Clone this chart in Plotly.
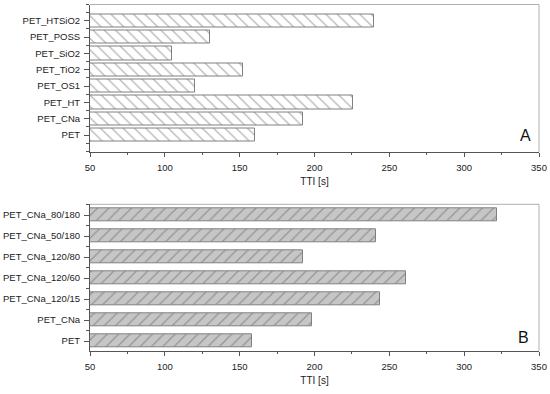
import plotly.graph_objects as go

# Panel A data
cats_a = ["PET", "PET_CNa", "PET_HT", "PET_OS1", "PET_TiO2", "PET_SiO2", "PET_POSS", "PET_HTSiO2"]
tti_a = [160, 192, 226, 120, 152, 105, 130, 240]

# Panel B data
cats_b = ["PET", "PET_CNa", "PET_CNa_120/15", "PET_CNa_120/60", "PET_CNa_120/80",
          "PET_CNa_50/180", "PET_CNa_80/180"]
tti_b = [158, 198, 244, 261, 192, 241, 322]

x_ticks = [50, 100, 150, 200, 250, 300, 350]

FONT = "Liberation Sans, Arial, sans-serif"
AX = "#555555"
TXT = "#222222"

pos_a = list(range(len(cats_a)))
pos_b = list(range(len(cats_b)))

fig = go.Figure()
fig.add_trace(go.Bar(
    x=tti_a, y=pos_a, orientation="h", base=0, width=0.82,
    marker=dict(color="white", line=dict(color="#808080", width=1),
                pattern=dict(shape="\\", fgcolor="#666666", bgcolor="white", size=8, solidity=0.15)),
    xaxis="x", yaxis="y", showlegend=False, hoverinfo="skip"))
fig.add_trace(go.Bar(
    x=tti_b, y=pos_b, orientation="h", base=0, width=0.63,
    marker=dict(color="#c6c6c6", line=dict(color="#808080", width=1),
                pattern=dict(shape="/", fgcolor="#606060", bgcolor="#c6c6c6", size=8, solidity=0.15)),
    xaxis="x2", yaxis="y2", showlegend=False, hoverinfo="skip"))

W, H = 550, 394
xdom = [90 / W, 539 / W]
ydom_a = [1 - 152 / H, 1 - 4.5 / H]
ydom_b = [1 - 350.7 / H, 1 - 204.3 / H]

def xax(anchor):
    return dict(domain=xdom, range=[50, 350], anchor=anchor, tickvals=x_ticks, automargin=False,
                ticks="outside", ticklen=4, tickcolor=AX, linecolor=AX, linewidth=1,
                showline=True, showgrid=False, zeroline=False, ticklabeloverflow="allow",
                minor=dict(ticks="outside", ticklen=2, tickcolor=AX, dtick=25, tick0=50),
                tickfont=dict(family=FONT, size=9.5, color=TXT), ticklabelstandoff=3,
                title=dict(text="TTI [s]", font=dict(family=FONT, size=10, color=TXT), standoff=5))

def yax(dom, anchor, cats, rng):
    return dict(domain=dom, range=rng, anchor=anchor, tickvals=list(range(len(cats))), automargin=False,
                ticktext=cats, ticks="outside", ticklen=5, tickcolor=AX, linecolor=AX,
                linewidth=1, showline=True, showgrid=False, zeroline=False,
                minor=dict(ticks="outside", ticklen=3, tickcolor=AX, dtick=0.5, tick0=0),
                tickfont=dict(family=FONT, size=9.5, color=TXT), ticklabelstandoff=2)

fig.update_layout(
    width=W, height=H, margin=dict(l=0, r=0, t=0, b=0),
    plot_bgcolor="white", paper_bgcolor="white", bargap=0,
    xaxis=xax("y"), yaxis=yax(ydom_a, "x", cats_a, [-1.04, 8.0]),
    xaxis2=xax("y2"), yaxis2=yax(ydom_b, "x2", cats_b, [-0.46, 6.51]),
    annotations=[
        dict(text="A", xref="x domain", yref="y domain", x=0.97, y=0.11, showarrow=False,
             font=dict(family=FONT, size=16, color="#111111"), xanchor="center", yanchor="middle"),
        dict(text="B", xref="x2 domain", yref="y2 domain", x=0.966, y=0.09, showarrow=False,
             font=dict(family=FONT, size=16, color="#111111"), xanchor="center", yanchor="middle"),
    ],
    shapes=[
        dict(type="line", xref="x domain", yref="y domain", x0=0, x1=1, y0=1, y1=1,
             line=dict(color="#b0b0b0", width=1)),
        dict(type="line", xref="x domain", yref="y domain", x0=1, x1=1, y0=0, y1=1,
             line=dict(color="#b0b0b0", width=1)),
        dict(type="line", xref="x2 domain", yref="y2 domain", x0=0, x1=1, y0=1, y1=1,
             line=dict(color="#b0b0b0", width=1)),
        dict(type="line", xref="x2 domain", yref="y2 domain", x0=1, x1=1, y0=0, y1=1,
             line=dict(color="#b0b0b0", width=1)),
    ],
)

fig.write_html("out.html", config={"displayModeBar": False},
               post_script="document.body.style.margin='0';document.body.style.overflow='hidden';")
